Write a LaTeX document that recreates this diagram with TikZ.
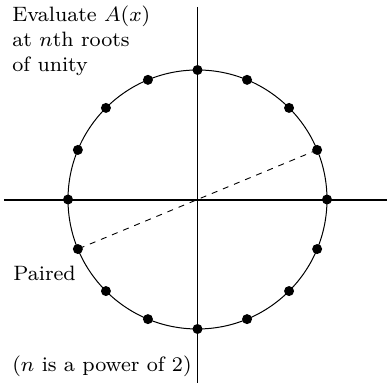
\documentclass[tikz,border=0pt]{standalone}
\usepackage{graphicx}
\usetikzlibrary{calc}
\newcommand{\lblfont}[1]{\scalebox{1.3}{\fontsize{8}{9.5}\selectfont\begin{tabular}[t]{@{}l@{}}#1\end{tabular}}}
\begin{document}
\begin{tikzpicture}[x=0.5pt,y=-0.5pt,
  dot/.style={circle,fill=black,inner sep=0pt,minimum size=5pt},
  axis/.style={line width=0.55pt},
  lbl/.style={inner sep=0pt,anchor=base west}]
\useasboundingbox (0,0) rectangle (388,383);
\coordinate (c) at (197.5,199.5);
\coordinate (vt) at (197.5,7);
\coordinate (vb) at (197.5,383);
\coordinate (hl) at (4,200);
\coordinate (hr) at (387,200);
\draw[axis] (vt) -- (vb);
\draw[axis] (hl) -- (hr);
\draw[line width=0.5pt] (c) circle[radius=64.75pt];
\foreach \i in {0,...,15}
  \node[dot] (d\i) at ([shift={(\i*22.5:64.75pt)}]c) {};
\draw[dashed,line width=0.45pt] (d1.center) -- (d9.center);
\node[lbl] (t1) at (12,22) {\lblfont{Evaluate $A(x)$\\at $n$th roots\\of unity}};
\node[lbl] (t2) at (13,281) {\lblfont{Paired}};
\node[lbl] (t3) at (12,372) {\lblfont{($n$ is a power of 2)}};
\end{tikzpicture}
\end{document}
